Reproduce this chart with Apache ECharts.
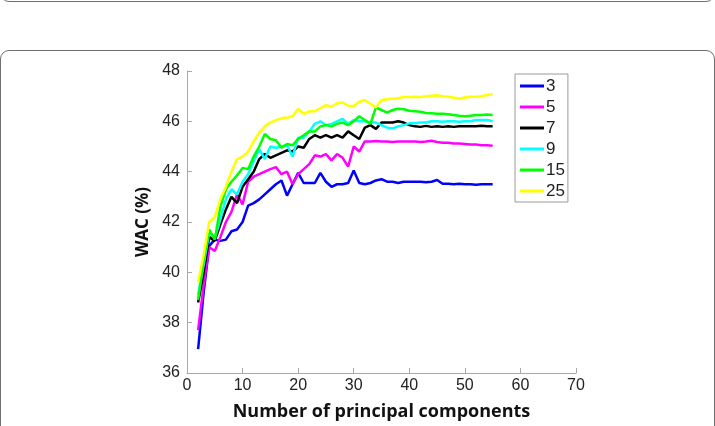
<!DOCTYPE html>
<html>
<head>
<meta charset="utf-8">
<script src="https://cdn.jsdelivr.net/npm/echarts@6/dist/echarts.min.js"></script>
<style>
html,body{margin:0;padding:0;background:#fff;}
#wrap{position:relative;width:715px;height:426px;overflow:hidden;}
.frame{position:absolute;border:1.5px solid #6f6f6f;border-radius:9px;box-sizing:border-box;}
#chart{position:absolute;left:0;top:0;width:715px;height:426px;}
</style>
</head>
<body>
<div id="wrap">
  <div class="frame" style="left:0;top:-80px;width:715px;height:82px;"></div>
  <div class="frame" style="left:0;top:50px;width:715px;height:500px;"></div>
  <div id="chart"></div>
</div>
<script>
// number of principal components
const xs = [2,3,4,5,6,7,8,9,10,11,12,13,14,15,16,17,18,19,20,21,22,23,24,25,26,27,28,29,30,31,32,33,34,35,36,37,38,39,40,41,42,43,44,45,46,47,48,49,50,51,52,53,54,55];
const seriesNames = ['3','5','7','9','15','25'];
const seriesColors = ['#0000ff','#ff00ff','#000000','#00ffff','#00ff00','#ffff00'];

const wac3 = [36.95,39.2,41.05,41.3,41.25,41.3,41.63,41.7,42.0,42.65,42.75,42.9,43.1,43.3,43.5,43.65,43.05,43.5,43.95,43.55,43.55,43.55,43.95,43.6,43.4,43.5,43.5,43.55,44.05,43.55,43.5,43.55,43.65,43.7,43.6,43.6,43.55,43.6,43.6,43.6,43.6,43.58,43.6,43.67,43.52,43.52,43.5,43.52,43.5,43.5,43.48,43.5,43.5,43.5];
const wac5 = [37.7,39.5,41.0,40.85,41.4,42.0,42.4,43.1,42.7,43.6,43.8,43.9,44.0,44.1,44.18,43.9,44.0,43.5,43.9,44.1,44.3,44.65,44.6,44.7,44.45,44.7,44.55,44.2,45.0,44.8,45.2,45.2,45.22,45.2,45.2,45.18,45.2,45.2,45.2,45.2,45.18,45.2,45.23,45.18,45.15,45.15,45.12,45.12,45.1,45.08,45.08,45.05,45.05,45.03];
const wac7 = [38.8,40.0,41.4,41.25,41.9,42.5,43.0,42.75,43.4,43.7,44.0,44.5,44.7,44.55,44.65,44.75,44.85,44.8,45.0,44.95,45.3,45.45,45.35,45.45,45.35,45.45,45.35,45.6,45.45,45.3,45.75,45.85,45.7,45.95,45.95,45.95,46.0,45.95,45.85,45.8,45.78,45.82,45.78,45.8,45.78,45.8,45.78,45.8,45.8,45.8,45.8,45.82,45.8,45.8];
const wac9 = [39.1,40.3,41.6,41.35,42.1,42.9,43.3,43.1,43.6,43.9,44.4,44.9,44.5,45.0,44.95,45.0,45.05,44.6,45.35,45.35,45.6,45.9,46.0,45.85,45.9,46.0,46.1,45.9,46.05,46.0,46.0,45.95,45.95,45.85,45.75,45.72,45.8,45.85,45.92,45.92,45.95,45.95,46.0,46.0,45.98,46.0,46.0,45.98,46.0,46.0,46.05,46.05,46.05,46.0];
const wac15 = [38.9,40.5,41.7,41.3,42.6,43.3,43.6,43.85,44.15,44.1,44.6,45.0,45.5,45.3,45.25,44.95,45.1,45.05,45.3,45.45,45.6,45.6,45.8,45.85,45.8,45.9,45.95,45.85,46.0,46.2,46.05,45.9,46.55,46.45,46.35,46.45,46.5,46.48,46.42,46.4,46.38,46.33,46.32,46.3,46.3,46.28,46.25,46.22,46.2,46.22,46.25,46.25,46.27,46.25];
const wac25 = [39.6,40.7,42.0,42.2,42.9,43.4,44.0,44.5,44.6,44.8,45.2,45.55,45.8,45.95,46.05,46.12,46.15,46.2,46.5,46.3,46.4,46.4,46.52,46.65,46.58,46.72,46.75,46.62,46.6,46.78,46.85,46.7,46.55,46.85,46.88,46.9,46.92,46.97,46.97,46.98,46.97,47.0,47.02,47.04,47.0,46.98,46.95,46.9,46.95,46.98,46.98,47.0,47.05,47.08];
const allValues = [wac3,wac5,wac7,wac9,wac15,wac25];

const xTicks = {min:0,max:70,interval:10};
const yTicks = {min:36,max:48,interval:2};

const chart = echarts.init(document.getElementById('chart'), null, {renderer:'canvas'});
const axisLineColor = '#a8a8a8';
const labelFont = {color:'#222', fontSize:16, fontFamily:'Liberation Sans, Arial, sans-serif'};

chart.setOption({
  animation:false,
  backgroundColor:'transparent',
  grid:{left:187, right:139, top:71, bottom:52, containLabel:false},
  legend:{
    orient:'vertical', left:515, top:74,
    data:seriesNames.map(n=>({name:n, icon:'rect'})),
    itemWidth:24, itemHeight:3, itemGap:3,
    padding:[3,3,2,5],
    borderColor:'#9a9a9a', borderWidth:1, backgroundColor:'#fff',
    textStyle:{color:'#222', fontSize:17, lineHeight:18, fontFamily:'Liberation Sans, Arial, sans-serif', padding:[0,0,0,-3]}
  },
  xAxis:{
    type:'value', min:xTicks.min, max:xTicks.max, interval:xTicks.interval,
    name:'Number of principal components', nameLocation:'middle', nameGap:30,
    nameTextStyle:{color:'#111', fontSize:18, fontWeight:'bold', fontFamily:'Open Sans, sans-serif'},
    axisLine:{show:true, lineStyle:{color:axisLineColor, width:1}},
    axisTick:{show:true, inside:true, length:5, lineStyle:{color:axisLineColor}},
    axisLabel:Object.assign({margin:5}, labelFont),
    splitLine:{show:false}
  },
  yAxis:{
    type:'value', min:yTicks.min, max:yTicks.max, interval:yTicks.interval,
    name:'WAC (%)', nameLocation:'middle', nameGap:34,
    nameTextStyle:{color:'#111', fontSize:17, fontWeight:'bold', fontFamily:'Open Sans, sans-serif'},
    axisLine:{show:true, lineStyle:{color:axisLineColor, width:1}},
    axisTick:{show:true, inside:true, length:5, lineStyle:{color:axisLineColor}},
    axisLabel:Object.assign({margin:7}, labelFont),
    splitLine:{show:false}
  },
  series:seriesNames.map((n,i)=>({
    name:n, type:'line', showSymbol:false, symbol:'none',
    color:seriesColors[i],
    lineStyle:{width:2.5, color:seriesColors[i]},
    data:xs.map((x,j)=>[x, allValues[i][j]])
  }))
});
</script>
</body>
</html>
